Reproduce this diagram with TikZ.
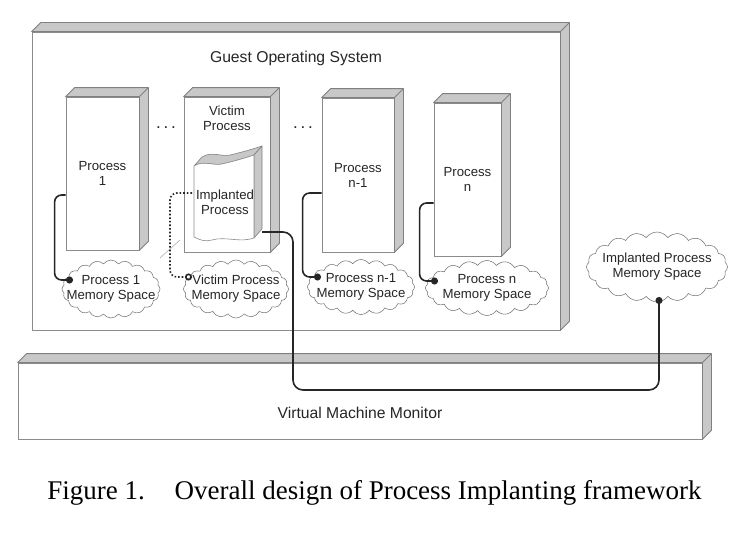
\documentclass[tikz,border=0pt]{standalone}
\usepackage{fontspec}
\setmainfont{Liberation Sans}
\newfontfamily\capfont{Liberation Serif}
\usetikzlibrary{arrows.meta, positioning, shapes.symbols}

\begin{document}
\begin{tikzpicture}[
  x=1pt, y=-1pt,
  every node/.style={font=\fontsize{13.2}{15}\selectfont, text=black!85},
  slab/.style={draw=gray!90, fill=white, line width=0.8pt, inner sep=0pt, align=center},
  face/.style={fill=gray!43, draw=gray, line width=0.8pt, line join=round},
  mem/.style={cloud, cloud puffs=20, cloud puff arc=110, cloud ignores aspect, draw=gray!85!black,
    fill=white, line width=0.5pt, inner sep=0pt},
  memtext/.style={align=center, inner sep=0pt},
  link/.style={draw=black!85, line width=1.6pt, rounded corners=7pt, -{Circle[length=7pt]}}
]
  \useasboundingbox (0,0) rectangle (747,535);

  % boxes
  \node[slab, minimum width=528pt, minimum height=298pt] (gos) at (296,181) {};
  \node[slab, minimum width=684pt, minimum height=76pt] (vmm) at (360,401) {};
  \node[slab, minimum width=73pt, minimum height=153pt] (p1) at (102.5,173.5) {Process\\1};
  \node[slab, minimum width=86pt, minimum height=155pt] (vic) at (227,174.5) {};
  \node[slab, minimum width=72pt, minimum height=154pt] (pn1) at (358,175) {Process\\n-1};
  \node[slab, minimum width=67pt, minimum height=153pt] (pn) at (467.5,179.5) {Process\\n};
  \foreach \b in {gos,vmm,p1,vic,pn1,pn} {
    \filldraw[face] (\b.north west) -- ++(9,-9) -| ([shift={(9,-9)}]\b.south east)
      -- (\b.south east) -- (\b.north east) -- cycle;
    \draw[gray, line width=0.8pt] (\b.north east) -- ++(9,-9);
  }

  \node[font=\fontsize{15.7}{18}\selectfont] (gostitle) at (296,58) {Guest Operating System};
  \node[align=center, below=6pt of vic.north] (viclbl) {Victim\\Process};
  \node[font=\fontsize{15.7}{18}\selectfont] (vmmlbl) at ([yshift=-12pt]vmm.center) {Virtual Machine Monitor};
  \node[font=\fontsize{17}{18}\selectfont] (dots1) at (166,128) {.\,.\,.};
  \node[font=\fontsize{17}{18}\selectfont] (dots2) at (303,128) {.\,.\,.};

  % implanted process
  \filldraw[face, line width=0.6pt] (194,166) .. controls (203,160) and (214,166) .. (222,164)
    .. controls (235,161) and (245,158) .. (254,155) -- (262,146)
    .. controls (253,149) and (243,152) .. (230,155) .. controls (222,157) and (211,151) .. (202,157) -- cycle;
  \filldraw[face, line width=0.6pt] (254,155) -- (262,146) -- (262,229) -- (254,238) -- cycle;
  \filldraw[draw=gray!90, fill=white, line width=0.6pt] (194,166) .. controls (203,160) and (214,166) .. (222,164)
    .. controls (235,161) and (245,158) .. (254,155) -- (254,238)
    .. controls (240,243) and (225,236) .. (212,240) .. controls (205,242) and (200,240) .. (194,237) -- cycle;
  \node[align=center] (impl) at (225,202) {Implanted\\Process};
  \coordinate (implin) at (192,193);
  \coordinate (implout) at (262,232);
  \draw[gray!70, line width=0.5pt] (160,258) -- (180,240);

  % memory spaces
  \node[mem, minimum width=98pt, minimum height=58pt, label={[memtext]center:{Process 1\\Memory Space}}] (m1) at (111,289) {};
  \node[mem, minimum width=105pt, minimum height=58pt, label={[memtext]center:{Victim Process\\Memory Space}}] (mv) at (236,289) {};
  \node[mem, minimum width=107pt, minimum height=55pt, label={[memtext]center:{Process n-1\\Memory Space}}] (mn1) at (361,287) {};
  \node[mem, minimum width=123pt, minimum height=55pt, label={[memtext]center:{Process n\\Memory Space}}] (mn) at (487,288) {};
  \node[mem, minimum width=141pt, minimum height=70pt, label={[memtext]center:{Implanted Process\\Memory Space}}] (mi) at (657,267) {};

  % links
  \draw[link] ([yshift=-21.5pt]p1.west) -- ++(-11,0) |- ([shift={(-38,-9)}]m1.center);
  \draw[link, dotted, -{Circle[open, length=7pt]}] (implin) -- ++(-22,0) |- ([shift={(-44,-12)}]mv.center);
  \draw[link] ([yshift=-18pt]pn1.west) -- ++(-19,0) |- ([shift={(-40,-10)}]mn1.center);
  \draw[link] ([yshift=-23.5pt]pn.west) -- ++(-14,0) |- ([shift={(-49,-7)}]mn.center);
  \draw[link, rounded corners=10pt] (implout) -- ++(31,0) -- ++(0,158) -| ([shift={(2,30)}]mi.center);

  \node[font=\capfont\fontsize{27}{30}\selectfont, text=black, anchor=base] (caption) at (374.5,499)
    {Figure 1.\hspace{1.1em}Overall design of Process Implanting framework};
\end{tikzpicture}
\end{document}
